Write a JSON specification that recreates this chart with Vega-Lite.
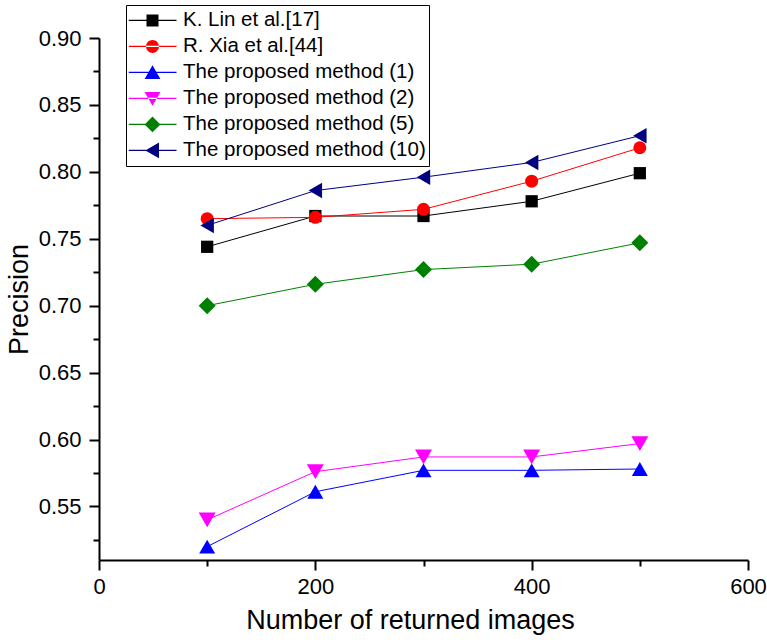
{
  "$schema": "https://vega.github.io/schema/vega-lite/v6.json",
  "width": 649,
  "height": 522,
  "autosize": {"type": "none"},
  "padding": {"left": 99, "top": 38, "right": 19, "bottom": 83},
  "background": "white",
  "config": {
    "view": {"stroke": null},
    "font": "Liberation Sans",
    "axis": {
      "grid": false,
      "domainColor": "black",
      "domainWidth": 2,
      "tickColor": "black",
      "tickWidth": 2,
      "labelColor": "black",
      "labelFont": "Liberation Sans",
      "labelFontSize": 22,
      "titleFont": "Liberation Sans",
      "titleFontSize": 27,
      "titleFontWeight": "normal",
      "titleColor": "black"
    },
    "legend": {
      "orient": "none",
      "legendX": 27,
      "legendY": -33,
      "strokeColor": "black",
      "fillColor": "white",
      "padding": 2.5,
      "labelFont": "Liberation Sans",
      "labelFontSize": 20.5,
      "labelColor": "black",
      "labelLimit": 400,
      "symbolSize": 2304,
      "symbolStrokeWidth": 0,
      "symbolOpacity": 1,
      "labelOffset": 6.5,
      "clipHeight": 25.9,
      "rowPadding": 0
    }
  },
  "data": {
    "values": [
      {"n": 100, "method": "K. Lin et al.[17]", "precision": 0.744},
      {"n": 200, "method": "K. Lin et al.[17]", "precision": 0.767},
      {"n": 300, "method": "K. Lin et al.[17]", "precision": 0.767},
      {"n": 400, "method": "K. Lin et al.[17]", "precision": 0.778},
      {"n": 500, "method": "K. Lin et al.[17]", "precision": 0.799},
      {"n": 100, "method": "R. Xia et al.[44]", "precision": 0.765},
      {"n": 200, "method": "R. Xia et al.[44]", "precision": 0.766},
      {"n": 300, "method": "R. Xia et al.[44]", "precision": 0.772},
      {"n": 400, "method": "R. Xia et al.[44]", "precision": 0.793},
      {"n": 500, "method": "R. Xia et al.[44]", "precision": 0.818},
      {"n": 100, "method": "The proposed method (1)", "precision": 0.520},
      {"n": 200, "method": "The proposed method (1)", "precision": 0.561},
      {"n": 300, "method": "The proposed method (1)", "precision": 0.577},
      {"n": 400, "method": "The proposed method (1)", "precision": 0.577},
      {"n": 500, "method": "The proposed method (1)", "precision": 0.578},
      {"n": 100, "method": "The proposed method (2)", "precision": 0.540},
      {"n": 200, "method": "The proposed method (2)", "precision": 0.576},
      {"n": 300, "method": "The proposed method (2)", "precision": 0.587},
      {"n": 400, "method": "The proposed method (2)", "precision": 0.587},
      {"n": 500, "method": "The proposed method (2)", "precision": 0.597},
      {"n": 100, "method": "The proposed method (5)", "precision": 0.700},
      {"n": 200, "method": "The proposed method (5)", "precision": 0.716},
      {"n": 300, "method": "The proposed method (5)", "precision": 0.727},
      {"n": 400, "method": "The proposed method (5)", "precision": 0.731},
      {"n": 500, "method": "The proposed method (5)", "precision": 0.747},
      {"n": 100, "method": "The proposed method (10)", "precision": 0.760},
      {"n": 200, "method": "The proposed method (10)", "precision": 0.786},
      {"n": 300, "method": "The proposed method (10)", "precision": 0.796},
      {"n": 400, "method": "The proposed method (10)", "precision": 0.807},
      {"n": 500, "method": "The proposed method (10)", "precision": 0.827}
    ]
  },
  "encoding": {
    "x": {
      "field": "n",
      "type": "quantitative",
      "scale": {"domain": [0, 600], "nice": false, "zero": false},
      "axis": {
        "title": "Number of returned images",
        "values": [0, 100, 200, 300, 400, 500, 600],
        "labelExpr": "datum.value % 200 === 0 ? datum.label : ''",
        "tickSize": {"condition": {"test": "datum.value % 200 === 0", "value": 10}, "value": 6},
        "labelPadding": 6,
        "titlePadding": 10,
        "titleX": 311,
        "labelFlush": false
      }
    },
    "y": {
      "field": "precision",
      "type": "quantitative",
      "scale": {"domain": [0.51, 0.9], "nice": false, "zero": false},
      "axis": {
        "title": "Precision",
        "values": [0.525, 0.55, 0.575, 0.6, 0.625, 0.65, 0.675, 0.7, 0.725, 0.75, 0.775, 0.8, 0.825, 0.85, 0.875, 0.9],
        "labelExpr": "abs(datum.value*20 - round(datum.value*20)) < 0.000001 ? format(datum.value, '.2f') : ''",
        "tickSize": {"condition": {"test": "abs(datum.value*20 - round(datum.value*20)) < 0.000001", "value": 10}, "value": 6},
        "labelPadding": 8,
        "titlePadding": 5,
        "labelFlush": false
      }
    },
    "color": {
      "field": "method",
      "type": "nominal",
      "scale": {
        "domain": ["K. Lin et al.[17]", "R. Xia et al.[44]", "The proposed method (1)", "The proposed method (2)", "The proposed method (5)", "The proposed method (10)"],
        "range": ["#000000", "#ff0000", "#0000ff", "#ff00ff", "#008000", "#000080"]
      },
      "legend": {"title": null}
    }
  },
  "layer": [
    {
      "mark": {"type": "point", "filled": true, "opacity": 0, "strokeWidth": 0},
      "encoding": {
        "shape": {
          "field": "method",
          "type": "nominal",
          "legend": {"title": null},
          "scale": {
            "domain": ["K. Lin et al.[17]", "R. Xia et al.[44]", "The proposed method (1)", "The proposed method (2)", "The proposed method (5)", "The proposed method (10)"],
            "range": [
              "M-1,-0.025H1V0.025H-1Z M-0.25,-0.25H0.25V0.25H-0.25Z",
              "M-1,-0.025H1V0.025H-1Z M-0.27,0A0.27,0.27 0 1,0 0.27,0A0.27,0.27 0 1,0 -0.27,0Z",
              "M-1,-0.025H1V0.025H-1Z M0,-0.3L0.33,0.27L-0.33,0.27Z",
              "M-1,-0.025H1V0.025H-1Z M0,0.3L0.33,-0.27L-0.33,-0.27Z",
              "M-1,-0.025H1V0.025H-1Z M0,-0.33L0.33,0L0,0.33L-0.33,0Z",
              "M-1,-0.025H1V0.025H-1Z M-0.3,0L0.27,-0.33L0.27,0.33Z"
            ]
          }
        }
      }
    },
    {"mark": {"type": "line", "strokeWidth": 1}},
    {
      "transform": [{"filter": "datum.method === 'K. Lin et al.[17]'"}],
      "mark": {"type": "point", "filled": true, "opacity": 1, "strokeWidth": 0, "shape": "square", "size": 150}
    },
    {
      "transform": [{"filter": "datum.method === 'R. Xia et al.[44]'"}],
      "mark": {"type": "point", "filled": true, "opacity": 1, "strokeWidth": 0, "shape": "circle", "size": 169}
    },
    {
      "transform": [{"filter": "datum.method === 'The proposed method (1)'"}],
      "mark": {"type": "point", "filled": true, "opacity": 1, "strokeWidth": 0, "shape": "triangle-up", "size": 256}
    },
    {
      "transform": [{"filter": "datum.method === 'The proposed method (2)'"}],
      "mark": {"type": "point", "filled": true, "opacity": 1, "strokeWidth": 0, "shape": "triangle-down", "size": 289}
    },
    {
      "transform": [{"filter": "datum.method === 'The proposed method (5)'"}],
      "mark": {"type": "point", "filled": true, "opacity": 1, "strokeWidth": 0, "shape": "diamond", "size": 289}
    },
    {
      "transform": [{"filter": "datum.method === 'The proposed method (10)'"}],
      "mark": {"type": "point", "filled": true, "opacity": 1, "strokeWidth": 0, "shape": "triangle-left", "size": 240}
    }
  ]
}
